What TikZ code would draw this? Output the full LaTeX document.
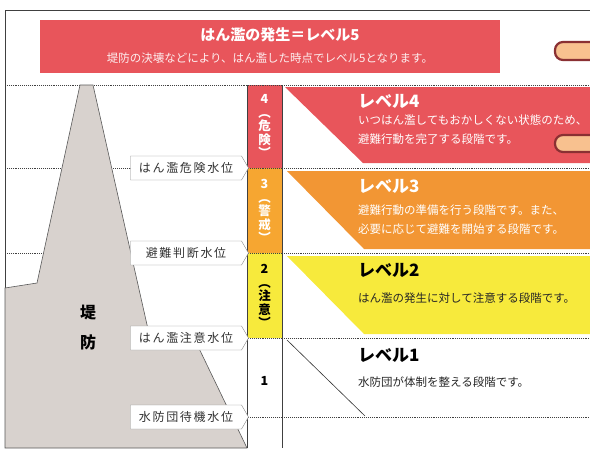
\documentclass[tikz,border=0pt]{standalone}
\usepackage{fontspec}
\setmainfont{Noto Sans CJK JP}
\usetikzlibrary{shapes.symbols, positioning}
\definecolor{lvred}{HTML}{E8555B}
\definecolor{lvorange}{HTML}{F29634}
\definecolor{lvamber}{HTML}{F6A631}
\definecolor{lvyellow}{HTML}{F7EA3C}
\definecolor{dikegray}{HTML}{D8D2CE}
\definecolor{pillpeach}{HTML}{F8C18F}
\definecolor{pillbrown}{HTML}{8A3033}
\tikzstyle{rowline} = [draw=black!75, line width=0.9pt, densely dotted]
\tikzstyle{colline} = [draw=black!75, line width=0.9pt]
\tikzstyle{gauge} = [signal, signal to=east, signal pointer angle=120, draw=black!45, fill=white, text=black!80, minimum width=118pt, minimum height=24pt, inner sep=2pt, font=\fontsize{12}{12}\selectfont\addfontfeature{LetterSpace=14}]
\tikzstyle{lvtitle} = [anchor=west, inner sep=0pt, font=\bfseries\fontsize{17}{17}\selectfont]
\tikzstyle{lvdesc} = [anchor=west, align=left, inner sep=0pt, font=\fontsize{11.5}{19}\selectfont]
\tikzstyle{lvnum} = [align=center, inner sep=0pt, font=\bfseries\fontsize{12.5}{13.5}\selectfont]
\tikzstyle{pill} = [draw=pillbrown, fill=pillpeach, line width=2.2pt, rounded corners=8pt]

\begin{document}
\begin{tikzpicture}[x=1pt, y=-1pt]
\useasboundingbox (0,0) rectangle (590,448);
\clip (0,0) rectangle (590,448);

% frame and banner
\draw[colline] (5,448) -- (5,10) -- (590,10);
\node[fill=lvred, minimum width=460pt, minimum height=53pt, inner sep=0pt] (banner) at (270,46.5) {};
\node[text=white, font=\bfseries\fontsize{15}{15}\selectfont] (bannertitle) at (280,35) {はん濫の発生＝レベル5};
\node[text=white!90!lvred, font=\fontsize{11.5}{11.5}\selectfont] (bannersub) at (270,58) {堤防の決壊などにより、はん濫した時点でレベル5となります。};

% level boxes
\fill[lvred] (285,87) -- (590,87) -- (590,163) -- (363,163) -- cycle;
\fill[lvorange] (287,171) -- (590,171) -- (590,249) -- (364,249) -- cycle;
\fill[lvyellow] (287,256) -- (590,256) -- (590,334) -- (364,334) -- cycle;
\draw[black!80, line width=0.6pt] (287,340) -- (365,416);

% level column
\fill[lvred] (247,85) rectangle (282,168);
\fill[lvamber] (247,168) rectangle (282,253);
\fill[lvyellow] (247,253) rectangle (282,338);

% row lines
\draw[rowline] (5,85) -- (590,85);
\draw[rowline] (5,168) -- (590,168);
\draw[rowline] (5,253) -- (590,253);
\draw[rowline] (5,338) -- (590,338);
\draw[rowline] (5,417) -- (590,417);
\draw[colline] (247,85) -- (247,448);
\draw[colline] (282,85) -- (282,448);

% dike
\draw[fill=dikegray, draw=black!65, line width=0.6pt] (80,85) -- (93,85) -- (150,338) -- (194,338) -- (247,448) -- (5,448) -- (5,288) -- (37,283) -- cycle;
\node[font=\bfseries\fontsize{16}{30}\selectfont, align=center] (dike) at (88,328) {堤\\防};

% water level gauges
\node[gauge] (danger) at (186,168) {はん濫危険水位};
\node[gauge] (judge) at (186,253) {避難判断水位};
\node[gauge] (caution) at (186,338) {はん濫注意水位};
\node[gauge] (standby) at (186,417) {水防団待機水位};

% level numbers
\node[lvnum, text=white] (num4) at (264.5,126) {4\\︵\\危\\険\\︶};
\node[lvnum, text=white] (num3) at (264.5,211) {3\\︵\\警\\戒\\︶};
\node[lvnum] (num2) at (264.5,296) {2\\︵\\注\\意\\︶};
\node[lvnum] (num1) at (264.5,381) {1};

% level texts
\node[lvtitle, text=white] (lv4) at (358,101) {レベル4};
\node[lvdesc, text=white, anchor=north west] (lv4desc) at (358,115) {いつはん濫してもおかしくない状態のため、\\避難行動を完了する段階です。};
\node[lvtitle, text=white] (lv3) at (358,186) {レベル3};
\node[lvdesc, text=white, anchor=north west] (lv3desc) at (358,205) {避難行動の準備を行う段階です。また、\\必要に応じて避難を開始する段階です。};
\node[lvtitle] (lv2) at (358,270) {レベル2};
\node[lvdesc, text=black!85] (lv2desc) at (358,298) {はん濫の発生に対して注意する段階です。};
\node[lvtitle] (lv1) at (358,355) {レベル1};
\node[lvdesc, text=black!85] (lv1desc) at (358,382) {水防団が体制を整える段階です。};

% pointing pills at right edge
\draw[pill] (555,42) rectangle (610,60);
\draw[pill] (555,135) rectangle (610,152);
\end{tikzpicture}
\end{document}
